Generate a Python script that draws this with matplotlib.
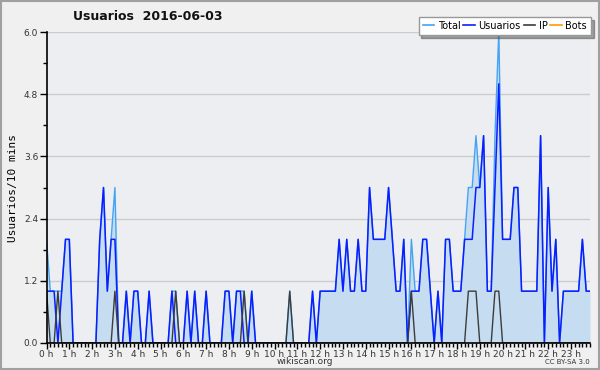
import numpy as np
import matplotlib
matplotlib.use("Agg")
import matplotlib.pyplot as plt
from matplotlib.lines import Line2D
from matplotlib.patches import Rectangle

# 10-minute slots, 6 per hour, one row per hour (0 h .. 23 h)
usuarios = [
    1, 1, 1, 0, 1, 2,
    2, 0, 0, 0, 0, 0,
    0, 0, 2, 3, 1, 2,
    2, 0, 0, 1, 0, 1,
    1, 0, 0, 1, 0, 0,
    0, 0, 0, 1, 0, 0,
    0, 1, 0, 1, 0, 0,
    1, 0, 0, 0, 0, 1,
    1, 0, 1, 1, 0, 0,
    1, 0, 0, 0, 0, 0,
    0, 0, 0, 0, 0, 0,
    0, 0, 0, 0, 1, 0,
    1, 1, 1, 1, 1, 2,
    1, 2, 1, 1, 2, 1,
    1, 3, 2, 2, 2, 2,
    3, 2, 1, 1, 2, 0,
    1, 1, 1, 2, 2, 1,
    0, 1, 0, 2, 2, 1,
    1, 1, 2, 2, 2, 3,
    3, 4, 1, 1, 3, 5,
    2, 2, 2, 3, 3, 1,
    1, 1, 1, 1, 4, 0,
    3, 1, 2, 0, 1, 1,
    1, 1, 1, 2, 1, 1,
]
ip = [
    1, 0, 0, 1, 0, 0,
    0, 0, 0, 0, 0, 0,
    0, 0, 0, 0, 0, 0,
    1, 0, 0, 0, 0, 0,
    0, 0, 0, 0, 0, 0,
    0, 0, 0, 0, 1, 0,
    0, 0, 0, 0, 0, 0,
    0, 0, 0, 0, 0, 0,
    0, 0, 0, 0, 1, 0,
    0, 0, 0, 0, 0, 0,
    0, 0, 0, 0, 1, 0,
    0, 0, 0, 0, 0, 0,
    0, 0, 0, 0, 0, 0,
    0, 0, 0, 0, 0, 0,
    0, 0, 0, 0, 0, 0,
    0, 0, 0, 0, 0, 0,
    1, 0, 0, 0, 0, 0,
    0, 0, 0, 0, 0, 0,
    0, 0, 0, 1, 1, 1,
    0, 0, 0, 0, 1, 1,
    0, 0, 0, 0, 0, 0,
    0, 0, 0, 0, 0, 0,
    0, 0, 0, 0, 0, 0,
    0, 0, 0, 0, 0, 0,
]
total = [
    2, 1, 1, 1, 1, 2,
    2, 0, 0, 0, 0, 0,
    0, 0, 2, 3, 1, 2,
    3, 0, 0, 1, 0, 1,
    1, 0, 0, 1, 0, 0,
    0, 0, 0, 1, 1, 0,
    0, 1, 0, 1, 0, 0,
    1, 0, 0, 0, 0, 1,
    1, 0, 1, 1, 1, 0,
    1, 0, 0, 0, 0, 0,
    0, 0, 0, 0, 1, 0,
    0, 0, 0, 0, 1, 0,
    1, 1, 1, 1, 1, 2,
    1, 2, 1, 1, 2, 1,
    1, 3, 2, 2, 2, 2,
    3, 2, 1, 1, 2, 0,
    2, 1, 1, 2, 2, 1,
    0, 1, 0, 2, 2, 1,
    1, 1, 2, 3, 3, 4,
    3, 4, 1, 1, 4, 6,
    2, 2, 2, 3, 3, 1,
    1, 1, 1, 1, 4, 0,
    3, 1, 2, 0, 1, 1,
    1, 1, 1, 2, 1, 1,
]
bots = [0] * 144

hour_labels = ["%d h" % h for h in range(24)]
y_ticks = [0.0, 1.2, 2.4, 3.6, 4.8, 6.0]

slots = np.arange(len(total))

fig = plt.figure(figsize=(6, 3.7), dpi=100, facecolor="#f0f0f0")
ax = fig.add_axes([46.5 / 600, 1 - 343 / 370, 543.5 / 600, 311 / 370])
ax.set_facecolor("#eceef1")

# outer frame of the picture
fig.patches.append(Rectangle((0.001, 0.002), 0.997, 0.995, transform=fig.transFigure,
                             fill=False, edgecolor="#a0a0a0", linewidth=1.5))

ax.plot(slots, bots, color="#ff9900", lw=1.0, zorder=1)
ax.fill_between(slots, total, 0, color="#c6dcf0", lw=0, zorder=1.5)
ax.plot(slots, total, color="#45a3f5", lw=1.0, zorder=2)
ax.plot(slots, usuarios, color="#0a1eff", lw=1.1, zorder=2.1)
ax.plot(slots, ip, color="#3c3c3c", lw=1.0, zorder=2.2)

ax.set_xlim(0, 143)
ax.set_ylim(0, 6.0)

ax.set_yticks(y_ticks)
ax.set_yticklabels(["%.1f" % v for v in y_ticks], fontsize=6.5, color="#333333")
ax.set_yticks(np.arange(0.6, 6.0, 1.2), minor=True)
ax.yaxis.grid(True, color="#cccccc", lw=1.0)
ax.set_axisbelow(True)

ax.set_xticks(np.arange(24) * 6)
ax.set_xticklabels(hour_labels, fontsize=6.5, color="#333333")
ax.set_xticks(slots, minor=True)

ax.tick_params(axis="x", which="major", length=4, width=1, pad=1)
ax.tick_params(axis="x", which="minor", length=3, width=1)
ax.tick_params(axis="y", which="major", length=5, width=1, pad=1)
ax.tick_params(axis="y", which="minor", length=3, width=1)

for side in ("top", "right"):
    ax.spines[side].set_visible(False)
for side in ("left", "bottom"):
    ax.spines[side].set_linewidth(1.2)
    ax.spines[side].set_zorder(3)

ax.set_ylabel("Usuarios/10 mins", fontsize=8, family="DejaVu Sans Mono", labelpad=4)

fig.text(148 / 600, 1 - 17 / 370, "Usuarios  2016-06-03", ha="center", va="center",
         fontsize=9, fontweight="bold", color="#111111")

handles = [Line2D([], [], color="#45a3f5", lw=1.2),
           Line2D([], [], color="#0a1eff", lw=1.2),
           Line2D([], [], color="#3c3c3c", lw=1.2),
           Line2D([], [], color="#ff9900", lw=1.2)]
leg = fig.legend(handles, ["Total", "Usuarios", "IP", "Bots"], ncol=4,
                 loc="upper right", bbox_to_anchor=(591 / 600, 1 - 17 / 370),
                 fontsize=7, frameon=True, fancybox=False, shadow=True,
                 handlelength=1.2, handletextpad=0.35, columnspacing=0.3,
                 borderpad=0.4, borderaxespad=0)
leg.get_frame().set_edgecolor("#999999")
leg.get_frame().set_facecolor("white")
leg.get_frame().set_alpha(1)

fig.text(305 / 600, 1 - 362 / 370, "wikiscan.org", ha="center", va="center",
         fontsize=6.5, color="#333333")
fig.text(590 / 600, 1 - 362 / 370, "CC BY-SA 3.0", ha="right", va="center",
         fontsize=5, color="#333333")

fig.savefig("out.png", dpi=100, facecolor=fig.get_facecolor())
